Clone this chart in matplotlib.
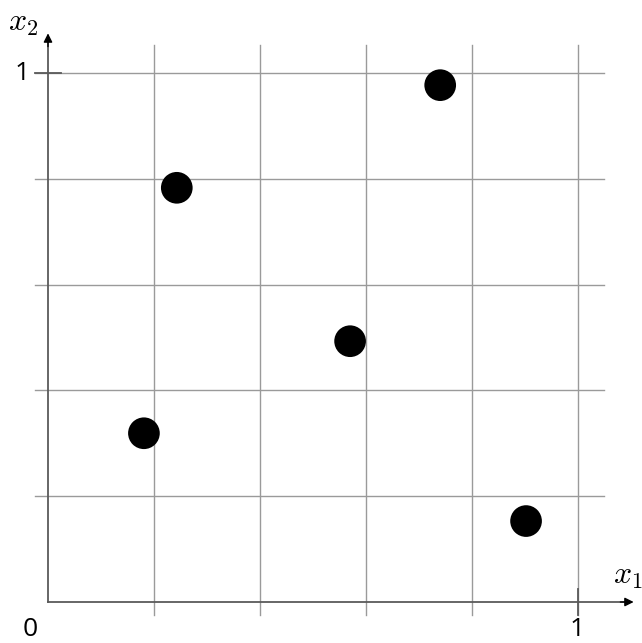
import matplotlib
matplotlib.use("Agg")
import matplotlib.pyplot as plt

# ---- data ------------------------------------------------------------------
x1 = [0.181, 0.243, 0.570, 0.740, 0.902]
x2 = [0.319, 0.783, 0.493, 0.977, 0.153]
grid_ticks = [0.2, 0.4, 0.6, 0.8, 1.0]

GRID, AXIS, INK = "#9a9a9a", "#5a5a5a", "#000000"

plt.rcParams["mathtext.fontset"] = "cm"

fig = plt.figure(figsize=(6.42, 6.43), dpi=100, facecolor="white")
ax = fig.add_axes([0, 0, 1, 1])
ax.set_xlim(-48 / 530, 594 / 530)
ax.set_ylim(-41 / 529, 602 / 529)
ax.axis("off")

# grid (extends a little past the axes on both sides)
for t in grid_ticks:
    ax.plot([t, t], [-0.025, 1.053], color=GRID, lw=1.0, zorder=1)
    ax.plot([-0.025, 1.049], [t, t], color=GRID, lw=1.0, zorder=1)

# darker ticks at 1
ax.plot([1, 1], [-0.025, 0.025], color=AXIS, lw=1.3, zorder=2)
ax.plot([-0.025, 0.025], [1, 1], color=AXIS, lw=1.3, zorder=2)

# axes: gray shafts, black arrow heads
ax.plot([0, 1.10], [0, 0], color=AXIS, lw=1.3, zorder=3)
ax.plot([0, 0], [0, 1.07], color=AXIS, lw=1.3, zorder=3)
for tip, tail in [((1.105, 0), (1.08, 0)), ((0, 1.075), (0, 1.05))]:
    ax.annotate("", xy=tip, xytext=tail,
                arrowprops=dict(arrowstyle="-|>", color=INK, lw=1.0,
                                mutation_scale=13, shrinkA=0, shrinkB=0), zorder=3)

# points
ax.scatter(x1, x2, s=520, color=INK, edgecolors="none", zorder=4)

# labels
ax.text(-0.034, -0.052, "0", fontsize=19, family="Open Sans",
        ha="center", va="center", color=INK)
ax.text(0.998, -0.052, "1", fontsize=19, family="Open Sans",
        ha="center", va="center", color=INK)
ax.text(-0.049, 1.0, "1", fontsize=19, family="Open Sans",
        ha="center", va="center", color=INK)
ax.text(1.094, 0.050, r"$x_1$", fontsize=23, ha="center", va="center", color=INK)
ax.text(-0.047, 1.096, r"$x_2$", fontsize=23, ha="center", va="center", color=INK)

fig.savefig("out.png", dpi=100, facecolor="white")
